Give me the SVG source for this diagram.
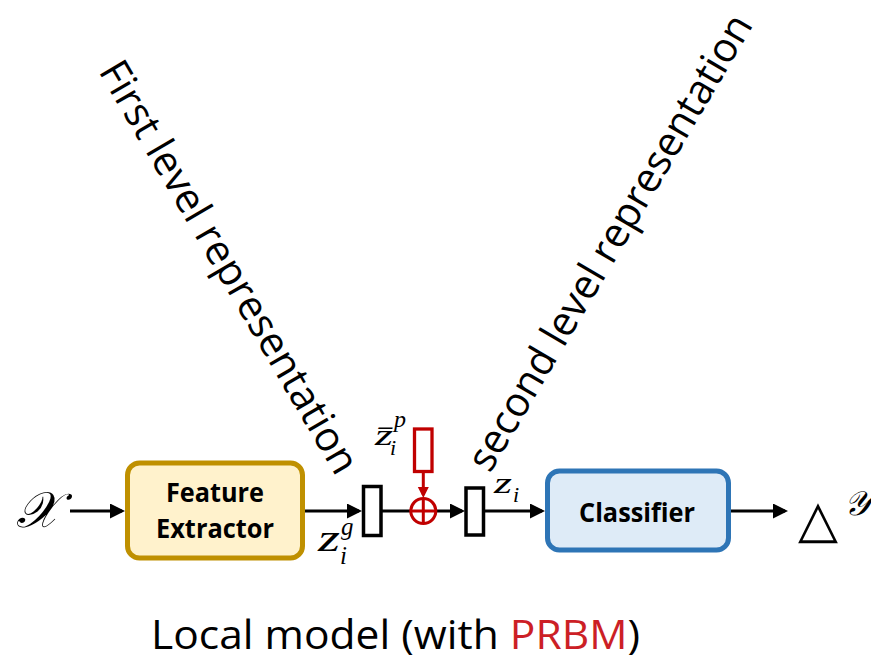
<svg xmlns="http://www.w3.org/2000/svg" width="871" height="661" viewBox="0 0 871 661">
<defs>
<style>
.lbl{font-family:"Open Sans","Liberation Sans",sans-serif;font-size:41px;fill:#000}
.box{font-family:"Open Sans","Liberation Sans",sans-serif;font-size:27px;font-weight:bold;fill:#000;text-anchor:middle}
.m{font-family:"Liberation Serif","DejaVu Serif",serif;font-style:italic;fill:#000}
.conn{stroke:#000;stroke-width:3;fill:none}
.red{stroke:#C00000;stroke-width:3;fill:none}
.vec{fill:#fff;stroke:#000;stroke-width:3.5}
</style>
<marker id="ah" markerUnits="userSpaceOnUse" markerWidth="16" markerHeight="16" refX="12" refY="7.5" orient="auto">
<path d="M0,0 L15,7.5 L0,15 z" fill="#000"/>
</marker>
<marker id="ahr" markerUnits="userSpaceOnUse" markerWidth="12" markerHeight="12" refX="8" refY="5.5" orient="auto">
<path d="M0,0 L11,5.5 L0,11 z" fill="#C00000"/>
</marker>
</defs>
<rect width="871" height="661" fill="#fff"/>

<g id="labels-rotated">
<text class="lbl" transform="translate(98,71) rotate(59.6)" textLength="471" lengthAdjust="spacingAndGlyphs">First level representation</text>
<text class="lbl" transform="translate(490,474) rotate(-59.6)" textLength="521" lengthAdjust="spacingAndGlyphs">second level representation</text>
</g>

<g id="connectors">
<line class="conn" x1="70" y1="511" x2="122" y2="511" marker-end="url(#ah)"/>
<line class="conn" x1="305" y1="511" x2="359" y2="511" marker-end="url(#ah)"/>
<line class="conn" x1="382" y1="511" x2="411" y2="511"/>
<line class="red" x1="423.3" y1="473" x2="423.3" y2="495" marker-end="url(#ahr)"/>
<line class="conn" x1="436" y1="511" x2="462" y2="511" marker-end="url(#ah)"/>
<line class="conn" x1="485" y1="511" x2="542" y2="511" marker-end="url(#ah)"/>
<line class="conn" x1="731" y1="511" x2="785" y2="511" marker-end="url(#ah)"/>
</g>

<g id="input">
<text class="m" x="16" y="527" font-size="50">𝒳</text>
</g>

<g id="feature-extractor">
<rect x="127.5" y="463" width="175" height="95" rx="12" fill="#FFF2CC" stroke="#BF9000" stroke-width="5"/>
<text class="box" x="215" y="502" textLength="98" lengthAdjust="spacingAndGlyphs">Feature</text>
<text class="box" x="215" y="538" textLength="118" lengthAdjust="spacingAndGlyphs">Extractor</text>
</g>

<g id="zg">
<rect class="vec" x="363.5" y="486.5" width="17.5" height="49"/>
<text class="m" x="318" y="551" font-size="37" textLength="22" lengthAdjust="spacingAndGlyphs">z</text>
<text class="m" x="341" y="535" font-size="25">g</text>
<text class="m" x="340" y="564" font-size="25">i</text>
</g>

<g id="zp">
<rect x="414.5" y="429" width="17.5" height="42.5" fill="#fff" stroke="#C00000" stroke-width="3.3"/>
<text class="m" x="375" y="445" font-size="29" textLength="18" lengthAdjust="spacingAndGlyphs">z̄</text>
<text class="m" x="394" y="427" font-size="24">p</text>
<text class="m" x="390" y="455" font-size="22">i</text>
</g>

<g id="plus">
<circle cx="423.3" cy="511" r="12.5" fill="#fff" stroke="#C00000" stroke-width="3"/>
<line class="red" x1="410.8" y1="511" x2="435.8" y2="511"/>
<line class="red" x1="423.3" y1="498.5" x2="423.3" y2="523.5"/>
</g>

<g id="zi">
<rect class="vec" x="466" y="488" width="17.5" height="47"/>
<text class="m" x="494" y="493" font-size="29" textLength="18" lengthAdjust="spacingAndGlyphs">z</text>
<text class="m" x="513" y="502" font-size="22">i</text>
</g>

<g id="classifier">
<rect x="547.5" y="471" width="181" height="79" rx="12" fill="#DEEBF7" stroke="#2E75B6" stroke-width="5"/>
<text class="box" x="637" y="522" textLength="116" lengthAdjust="spacingAndGlyphs">Classifier</text>
</g>

<g id="output">
<text x="798" y="537" font-family="DejaVu Sans,sans-serif" font-size="52">△</text>
<text class="m" x="844" y="515" font-size="34">𝒴</text>
</g>

<g id="caption">
<text class="lbl" x="151" y="649" textLength="489" lengthAdjust="spacingAndGlyphs">Local model (with <tspan fill="#CC1F26">PRBM</tspan>)</text>
</g>
</svg>
